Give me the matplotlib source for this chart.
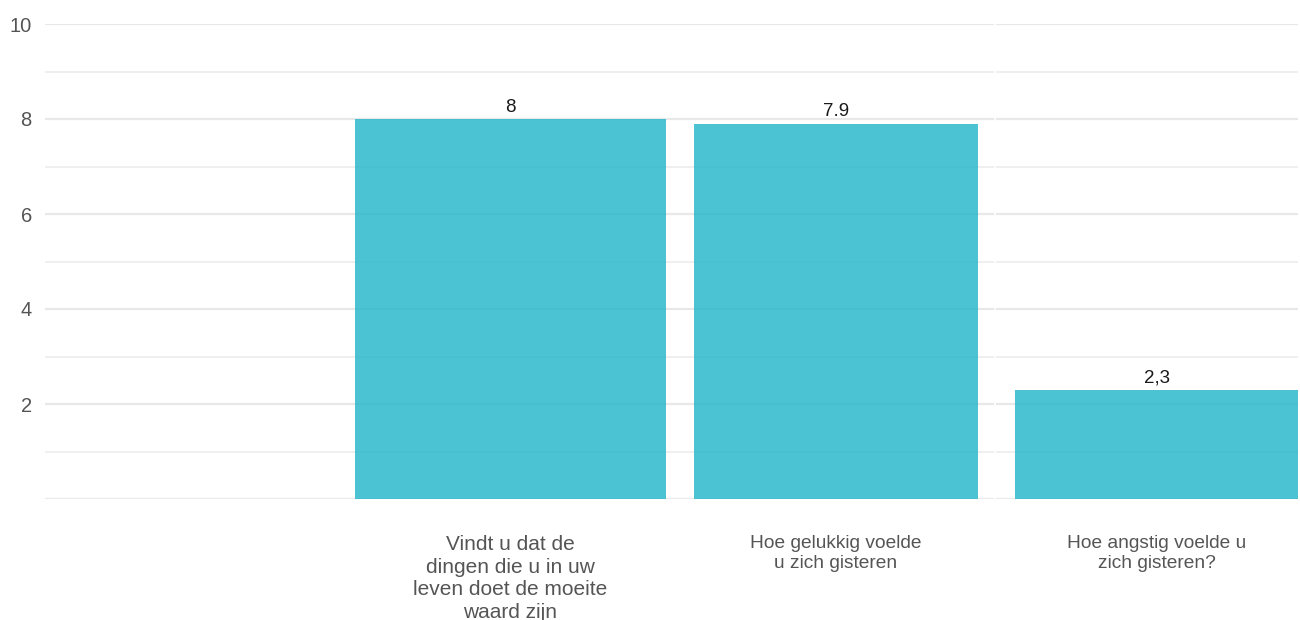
import matplotlib
matplotlib.use("Agg")
import matplotlib.pyplot as plt
from matplotlib.ticker import MultipleLocator
import matplotlib.transforms as mtransforms

plt.rcParams['font.family'] = ['Liberation Sans', 'DejaVu Sans']

# Survey questions and mean scores (0-10)
categories = [
    "Vindt u dat de\ndingen die u in uw\nleven doet de moeite\nwaard zijn",
    "Hoe gelukkig voelde\nu zich gisteren",
    "Hoe angstig voelde u\nzich gisteren?",
]
values = [8.0, 7.9, 2.3]
value_labels = ["8", "7.9", "2,3"]
y_ticks = [2, 4, 6, 8, 10]

# Layout: bar left / right edges in slot units (x axis spans 4 slots)
bar_left = [0.99, 2.072, 3.097]
bar_right = [1.982, 2.978, 4.0]
cat_fontsizes = [15, 13.8, 13.8]

fig = plt.figure(figsize=(13, 6.2), dpi=100)
ax = fig.add_axes([45 / 1300, (620 - 499) / 620, (1298 - 45) / 1300, 475 / 620])

bar_color = "#1FB5C9"
text_grey = "#555555"

ax.set_xlim(0, 4)
ax.set_ylim(0, 10)

ax.yaxis.set_major_locator(MultipleLocator(2))
ax.yaxis.set_minor_locator(MultipleLocator(1))
ax.grid(axis="y", which="major", color="#e8e8e8", linewidth=1.6, zorder=0)
ax.grid(axis="y", which="minor", color="#ebebeb", linewidth=1.1, zorder=0)
ax.set_axisbelow(True)
ax.axhline(0, color="#e8e8e8", linewidth=1.6, zorder=0)

widths = [r - l for l, r in zip(bar_left, bar_right)]
ax.bar(bar_left, values, width=widths, align="edge", color=bar_color,
       alpha=0.8, linewidth=0, zorder=2)

# small break in the grid between panels
for xb in [3.032]:
    ax.axvline(xb, color="white", linewidth=1.2, zorder=1)

ax.set_yticks(y_ticks)
ax.set_yticklabels([str(t) for t in y_ticks], fontsize=14.5, color=text_grey)
ax.tick_params(axis="y", which="both", length=0, pad=9.5)
ax.set_xticks([])

for s in ax.spines.values():
    s.set_visible(False)

centers = [(l + r) / 2 for l, r in zip(bar_left, bar_right)]
for c, v, lab in zip(centers, values, value_labels):
    off = mtransforms.offset_copy(ax.transData, fig=fig, x=0, y=2.5, units="points")
    ax.text(c, v, lab, ha="center", va="bottom", fontsize=13.5,
            color="#1a1a1a", transform=off)

trans = mtransforms.blended_transform_factory(ax.transData, ax.transAxes)
for c, cat, fs in zip(centers, categories, cat_fontsizes):
    off = mtransforms.offset_copy(trans, fig=fig, x=0, y=-26, units="points")
    ax.text(c, 0, cat, ha="center", va="top", fontsize=fs, color=text_grey,
            linespacing=1.24, transform=off, clip_on=False)

fig.savefig("out.png", dpi=100, facecolor="white")
